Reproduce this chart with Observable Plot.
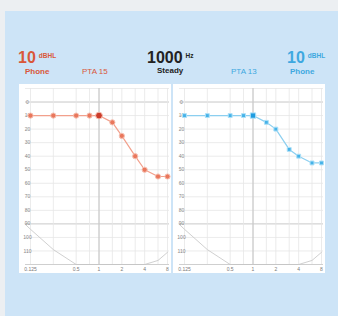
<!DOCTYPE html>
<html>
<head>
<meta charset="utf-8">
<script src="https://cdn.jsdelivr.net/npm/d3@7"></script>
<script src="https://cdn.jsdelivr.net/npm/@observablehq/plot@0.6"></script>
<style>
  html, body { margin: 0; padding: 0; }
  body { width: 338px; height: 316px; background: #eceff2; position: relative; overflow: hidden; font-family: "Liberation Sans", Arial, sans-serif; }
  #panel { position: absolute; left: 5px; top: 11px; right: 0; bottom: 0; background: #cde4f7; }
  .t { position: absolute; white-space: nowrap; line-height: 1; }
  .big { font-size: 16px; font-weight: bold; }
  .unit { font-size: 6.5px; font-weight: bold; margin-left: 3px; vertical-align: 5px; }
  .sub { font-size: 8px; font-weight: bold; }
  .pta { font-size: 8px; }
  .red { color: #d9573a; }
  .blue { color: #3ea8e0; }
  .blk { color: #222; }
  #pl, #pr { position: absolute; top: 84px; }
  #pl { left: 19px; }
  #pr { left: 173px; }
  svg { display: block; }
</style>
</head>
<body>
<div id="panel"></div>
<div class="t big red" style="left:18px;top:50px">10<span class="unit">dBHL</span></div>
<div class="t sub red" style="left:25px;top:68px">Phone</div>
<div class="t pta red" style="left:82px;top:68px">PTA 15</div>
<div class="t big blk" style="left:147px;top:50px">1000<span class="unit">Hz</span></div>
<div class="t sub blk" style="left:157px;top:67px">Steady</div>
<div class="t pta blue" style="left:231px;top:68px">PTA 13</div>
<div class="t big blue" style="left:287px;top:50px">10<span class="unit">dBHL</span></div>
<div class="t sub blue" style="left:290px;top:68px">Phone</div>
<div id="pl"></div>
<div id="pr"></div>
<script>
// Frequencies (Hz) tested
const freqs = [125, 250, 500, 750, 1000, 1500, 2000, 3000, 4000, 6000, 8000];
// Thresholds (dB HL)
const leftDb  = [10, 10, 10, 10, 10, 15, 25, 40, 50, 55, 55];
const rightDb = [10, 10, 10, 10, 10, 15, 20, 35, 40, 45, 45];
// Selected frequency
const selectedFreq = 1000;
// Axis ticks
const yTicks = [0, 10, 20, 30, 40, 50, 60, 70, 80, 90, 100, 110];
const yGrid = [-10, 0, 10, 20, 30, 40, 50, 60, 70, 80, 90, 100, 110, 120];
const yMajor = [0, 90, 120];
const xTickValues = [125, 500, 1000, 2000, 4000, 8000];
const xTickLabels = ["0.125", "0.5", "1", "2", "4", "8"];
const xGrid = [125, 250, 500, 750, 1000, 1500, 2000, 3000, 4000, 6000, 8000];
const xMajor = [1000];
// Output limit curve
const limitFreqs = [105, 125, 250, 500, 4000, 6000, 8000];
const limitDb    = [90, 94, 109, 120, 120, 117, 111];

const limitData = limitFreqs.map((f, i) => ({f, db: limitDb[i]}));
const labelMap = new Map(xTickValues.map((v, i) => [v, xTickLabels[i]]));

function audiogram(values, opts) {
  const data = freqs.map((f, i) => ({f, db: values[i]}));
  return Plot.plot({
    width: 152,
    height: 189,
    marginLeft: 6,
    marginRight: 2,
    marginTop: 4,
    marginBottom: 9,
    style: {background: "#ffffff", fontFamily: "Liberation Sans, Arial, sans-serif"},
    x: {type: "log", domain: [125, 8000], range: [11, 148], axis: null},
    y: {domain: [-10, 120], reverse: true, axis: null},
    marks: [
      Plot.ruleY(yGrid, {stroke: "#e6e6e6", strokeWidth: 0.8}),
      Plot.ruleY(yMajor, {stroke: "#c8c8c8", strokeWidth: 0.8}),
      Plot.ruleX(xGrid, {stroke: "#e6e6e6", strokeWidth: 0.8}),
      Plot.ruleX(xMajor, {stroke: "#bdbdbd", strokeWidth: 0.9}),
      Plot.line(limitData, {x: "f", y: "db", stroke: "#c4c4c4", strokeWidth: 0.8}),
      Plot.text(yTicks, {frameAnchor: "left", dx: 2, y: d => d, text: d => String(d), fontSize: 5, fill: "#8a8a8a", textAnchor: "middle"}),
      Plot.text(xTickValues, {x: d => d, frameAnchor: "bottom", dy: 5, text: d => labelMap.get(d), fontSize: 5, fill: "#7a7a7a", lineAnchor: "middle"}),
      Plot.line(data, {x: "f", y: "db", stroke: opts.line, strokeWidth: 1.2}),
      Plot.dot(data.filter(d => d.f !== selectedFreq), {x: "f", y: "db", r: opts.r, symbol: opts.symbol, fill: opts.dot, stroke: opts.halo, strokeWidth: 1}),
      Plot.dot(data.filter(d => d.f === selectedFreq), {x: "f", y: "db", r: opts.r + 0.8, symbol: opts.symbol, fill: opts.sel, stroke: opts.halo, strokeWidth: 1})
    ]
  });
}

document.getElementById("pl").append(audiogram(leftDb, {
  line: "#f2a08c", dot: "#e9775c", halo: "#f6c1b3", sel: "#cc3b2a", r: 2.6, symbol: "circle"
}));
document.getElementById("pr").append(audiogram(rightDb, {
  line: "#8ccff0", dot: "#45b2e8", halo: "#aee0f7", sel: "#1f9ce0", r: 2.2, symbol: "square"
}));
</script>
</body>
</html>
